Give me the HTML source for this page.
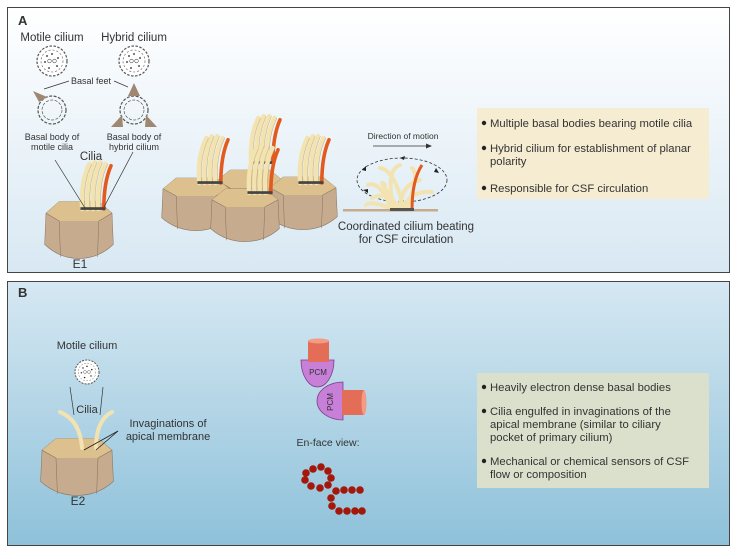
<!DOCTYPE html>
<html><head><meta charset="utf-8"><style>
body{margin:0;width:738px;height:554px;overflow:hidden;background:#fff;font-family:"Liberation Sans",sans-serif}
svg text{font-family:"Liberation Sans",sans-serif;fill:#333}
</style></head><body>
<svg width="738" height="554" viewBox="0 0 738 554" xmlns="http://www.w3.org/2000/svg">
<defs>
<linearGradient id="ga" x1="0" y1="0" x2="0" y2="1"><stop offset="0" stop-color="#ffffff"/><stop offset="1" stop-color="#d8e8f3"/></linearGradient>
<linearGradient id="gb" x1="0" y1="0" x2="0" y2="1"><stop offset="0" stop-color="#d6e8f2"/><stop offset="1" stop-color="#8ec1da"/></linearGradient>
<g id="cell">
<path d="M-50,-10 L-30,-25 L30,-25 L50,-10 L52,30 Q30,48 0,48 Q-30,48 -52,30 Z" fill="#c6ab8e" stroke="#8a7560" stroke-width="0.8"/>
<path d="M-50,-10 L-30,-25 L30,-25 L50,-10 L30,0 L-30,0 Z" fill="#dcc08e"/>
<path d="M-30,0 L-28,46 M30,0 L28,46 M-30,0 L-50,-10 M30,0 L50,-10" stroke="#8a7560" stroke-width="0.8" fill="none"/>
</g>
<g id="cilia">
<path d="M-12,0 Q-14,-30 -4,-50 M-6,0 Q-8,-30 2,-52 M0,0 Q-2,-30 8,-52 M6,0 Q4,-30 14,-50" stroke="#f3e3b0" stroke-width="5" fill="none" stroke-linecap="round"/>
<path d="M-12,0 Q-14,-30 -4,-50 M-6,0 Q-8,-30 2,-52 M0,0 Q-2,-30 8,-52 M6,0 Q4,-30 14,-50" stroke="#b9a77a" stroke-width="0.5" fill="none" transform="translate(2.5,0)"/>
<path d="M12,0 Q12,-30 20,-48" stroke="#e35a1e" stroke-width="4" fill="none" stroke-linecap="round"/>
<rect x="-14" y="-2" width="28" height="3" fill="#444"/>
</g>
<g id="ring"><circle r="14" fill="none" stroke="#555" stroke-width="1.2" stroke-dasharray="3 1.5"/><circle r="10" fill="none" stroke="#555" stroke-width="0.7" stroke-dasharray="3 1.5"/></g>
<g id="xs"><circle r="15" fill="#fff" stroke="#555" stroke-width="1.2" stroke-dasharray="2.5 1.5"/><circle r="11" fill="none" stroke="#555" stroke-width="0.6" stroke-dasharray="2 2"/><circle cx="-2.5" r="1.8" fill="none" stroke="#555" stroke-width="0.6"/><circle cx="2.5" r="1.8" fill="none" stroke="#555" stroke-width="0.6"/><g fill="#222"><circle cx="0" cy="-7" r="0.9"/><circle cx="6" cy="-3" r="0.9"/><circle cx="5" cy="5" r="0.9"/><circle cx="-3" cy="7" r="0.9"/><circle cx="-7" cy="1" r="0.9"/><circle cx="-5" cy="-5" r="0.9"/></g></g>
</defs>
<rect x="7.5" y="7.5" width="722" height="265" fill="url(#ga)" stroke="#444"/>
<rect x="7.5" y="281.5" width="722" height="264" fill="url(#gb)" stroke="#444"/>
<text x="18" y="25" font-size="13" font-weight="bold" fill="#222">A</text>
<text x="18" y="297" font-size="13" font-weight="bold" fill="#222">B</text>

<!-- Panel A left -->
<text x="52" y="41" font-size="11.5" text-anchor="middle">Motile cilium</text>
<text x="134" y="41" font-size="11.5" text-anchor="middle">Hybrid cilium</text>
<use href="#xs" x="52" y="61"/><use href="#xs" x="134" y="61"/>
<text x="91" y="84" font-size="9" text-anchor="middle">Basal feet</text>
<line x1="44" y1="89" x2="69" y2="81" stroke="#333" stroke-width="0.7"/>
<line x1="114" y1="81" x2="128" y2="87" stroke="#333" stroke-width="0.7"/>
<use href="#ring" x="52" y="110"/><use href="#ring" x="134" y="110"/>
<path d="M33,91 L47,97 L39,102 Z" fill="#9f8871"/>
<path d="M134,83 L128,96 L140,96 Z" fill="#9f8871"/>
<path d="M111,127 L122,115 L123,127 Z" fill="#9f8871"/>
<path d="M157,127 L146,115 L145,127 Z" fill="#9f8871"/>
<text x="52" y="140" font-size="9" text-anchor="middle">Basal body of</text>
<text x="52" y="150" font-size="9" text-anchor="middle">motile cilia</text>
<text x="134" y="140" font-size="9" text-anchor="middle">Basal body of</text>
<text x="134" y="150" font-size="9" text-anchor="middle">hybrid cilium</text>
<text x="91" y="160" font-size="11.5" text-anchor="middle">Cilia</text>
<use href="#cell" transform="translate(79,221) scale(0.66,0.78)"/>
<use href="#cilia" transform="translate(93,209) scale(0.9)"/>
<line x1="55" y1="160" x2="85" y2="208" stroke="#333" stroke-width="0.7"/>
<line x1="133" y1="152" x2="104" y2="207" stroke="#333" stroke-width="0.7"/>
<text x="80" y="268" font-size="12" text-anchor="middle">E1</text>

<!-- Panel A middle cells -->
<use href="#cell" transform="translate(250,188) scale(0.66,0.72)"/>
<use href="#cell" transform="translate(196,196) scale(0.66,0.72)"/>
<use href="#cell" transform="translate(303,195) scale(0.66,0.72)"/>
<use href="#cell" transform="translate(245,207) scale(0.66,0.72)"/>
<use href="#cilia" transform="translate(210,183) scale(0.9)"/>
<use href="#cilia" transform="translate(262,163) scale(0.9)"/>
<use href="#cilia" transform="translate(260,193) scale(0.9)"/>
<use href="#cilia" transform="translate(311,183) scale(0.9)"/>

<!-- beating -->
<text x="403" y="139" font-size="8.5" text-anchor="middle">Direction of motion</text>
<line x1="373" y1="146" x2="428" y2="146" stroke="#333" stroke-width="0.8"/><path d="M432,146 L426,143.5 L426,148.5 Z" fill="#333"/>
<ellipse cx="402" cy="180" rx="45" ry="22" fill="none" stroke="#333" stroke-width="0.8" stroke-dasharray="3 2"/>
<g fill="#222"><path d="M400,158 l5,-2 l-1,4z"/><path d="M436,168 l3,5 l-5,-1z"/><path d="M362,170 l4,-4 l0,5z"/><path d="M368,193 l-5,-3 l5,-1z"/><path d="M404,204 l-5,-2 l5,-2z"/></g>
<g stroke="#f3e3b0" stroke-width="4" fill="none" stroke-linecap="round">
<path d="M392,210 Q380,180 368,185"/><path d="M394,210 Q385,170 400,165"/><path d="M398,210 Q390,190 372,198"/><path d="M400,210 Q400,185 420,180"/><path d="M402,210 Q410,190 432,192"/><path d="M396,210 Q370,200 366,205"/><path d="M404,210 Q395,170 380,168"/><path d="M400,210 Q375,175 385,185"/><path d="M406,210 Q420,175 412,168"/>
</g>
<path d="M412,210 Q412,180 422,165" stroke="#e35a1e" stroke-width="3" fill="none"/>
<rect x="343" y="209" width="95" height="2.5" fill="#c6ab8e"/>
<rect x="390" y="208" width="24" height="3" fill="#555"/>
<text x="406" y="230" font-size="11.5" text-anchor="middle">Coordinated cilium beating</text>
<text x="406" y="243" font-size="11.5" text-anchor="middle">for CSF circulation</text>

<rect x="477" y="108" width="232" height="91" fill="#f5ecd2"/>
<g font-size="11.3"><circle cx="484" cy="123" r="2.2" fill="#222"/><text x="490" y="127">Multiple basal bodies bearing motile cilia</text>
<circle cx="484" cy="148" r="2.2" fill="#222"/><text x="490" y="152">Hybrid cilium for establishment of planar</text><text x="490" y="165">polarity</text>
<circle cx="484" cy="188" r="2.2" fill="#222"/><text x="490" y="192">Responsible for CSF circulation</text></g>

<!-- Panel B -->
<text x="87" y="349" font-size="11" text-anchor="middle">Motile cilium</text>
<use href="#xs" transform="translate(87,372) scale(0.8)"/>
<use href="#cell" transform="translate(77,458) scale(0.7,0.78)"/>
<path d="M82,448 Q80,420 60,412 M96,448 Q96,420 112,412" stroke="#f3e3b0" stroke-width="4" fill="none" stroke-linecap="round"/>
<line x1="70" y1="387" x2="74" y2="415" stroke="#333" stroke-width="0.7"/><line x1="103" y1="387" x2="100" y2="415" stroke="#333" stroke-width="0.7"/>
<text x="87" y="413" font-size="11" text-anchor="middle">Cilia</text>
<text x="168" y="427" font-size="11" text-anchor="middle">Invaginations of</text>
<text x="168" y="440" font-size="11" text-anchor="middle">apical membrane</text>
<line x1="118" y1="431" x2="84" y2="450" stroke="#222" stroke-width="0.8"/><line x1="118" y1="431" x2="96" y2="450" stroke="#222" stroke-width="0.8"/>
<text x="78" y="505" font-size="12" text-anchor="middle">E2</text>

<path d="M301,360 A16.5,27 0 0 0 334,360 Z" fill="#c77fd8" stroke="#7b3f8a" stroke-width="0.8"/>
<rect x="308" y="341" width="21" height="21" fill="#e46d57"/><ellipse cx="318.5" cy="341" rx="10.5" ry="2.5" fill="#f29b85"/>
<text x="318" y="375" font-size="8" text-anchor="middle">PCM</text>
<path d="M343,382 A26,19 0 0 0 343,420 Z" fill="#c77fd8" stroke="#7b3f8a" stroke-width="0.8"/>
<rect x="342" y="390" width="22" height="25" fill="#e46d57"/><ellipse cx="364" cy="402.5" rx="2.5" ry="12.5" fill="#f29b85"/>
<text x="333" y="402" font-size="8" text-anchor="middle" transform="rotate(-90 333 402)">PCM</text>
<text x="328" y="446" font-size="10.5" text-anchor="middle">En-face view:</text>
<g fill="#a3180b">
<circle cx="313" cy="469" r="3.8"/><circle cx="321" cy="467" r="3.8"/><circle cx="328" cy="471" r="3.8"/><circle cx="331" cy="478" r="3.8"/><circle cx="328" cy="485" r="3.8"/><circle cx="320" cy="488" r="3.8"/><circle cx="311" cy="486" r="3.8"/><circle cx="305" cy="480" r="3.8"/><circle cx="306" cy="473" r="3.8"/>
<circle cx="336" cy="491" r="3.8"/><circle cx="344" cy="490" r="3.8"/><circle cx="352" cy="490" r="3.8"/><circle cx="360" cy="490" r="3.8"/><circle cx="331" cy="498" r="3.8"/><circle cx="332" cy="506" r="3.8"/><circle cx="339" cy="511" r="3.8"/><circle cx="347" cy="511" r="3.8"/><circle cx="355" cy="511" r="3.8"/><circle cx="362" cy="511" r="3.8"/>
</g>

<rect x="477" y="373" width="232" height="115" fill="#dbe0cd"/>
<g font-size="11.3"><circle cx="484" cy="387" r="2.2" fill="#222"/><text x="490" y="391">Heavily electron dense basal bodies</text>
<circle cx="484" cy="411" r="2.2" fill="#222"/><text x="490" y="415">Cilia engulfed in invaginations of the</text><text x="490" y="428">apical membrane (similar to ciliary</text><text x="490" y="441">pocket of primary cilium)</text>
<circle cx="484" cy="461" r="2.2" fill="#222"/><text x="490" y="465">Mechanical or chemical sensors of CSF</text><text x="490" y="478">flow or composition</text></g>
</svg>
</body></html>
